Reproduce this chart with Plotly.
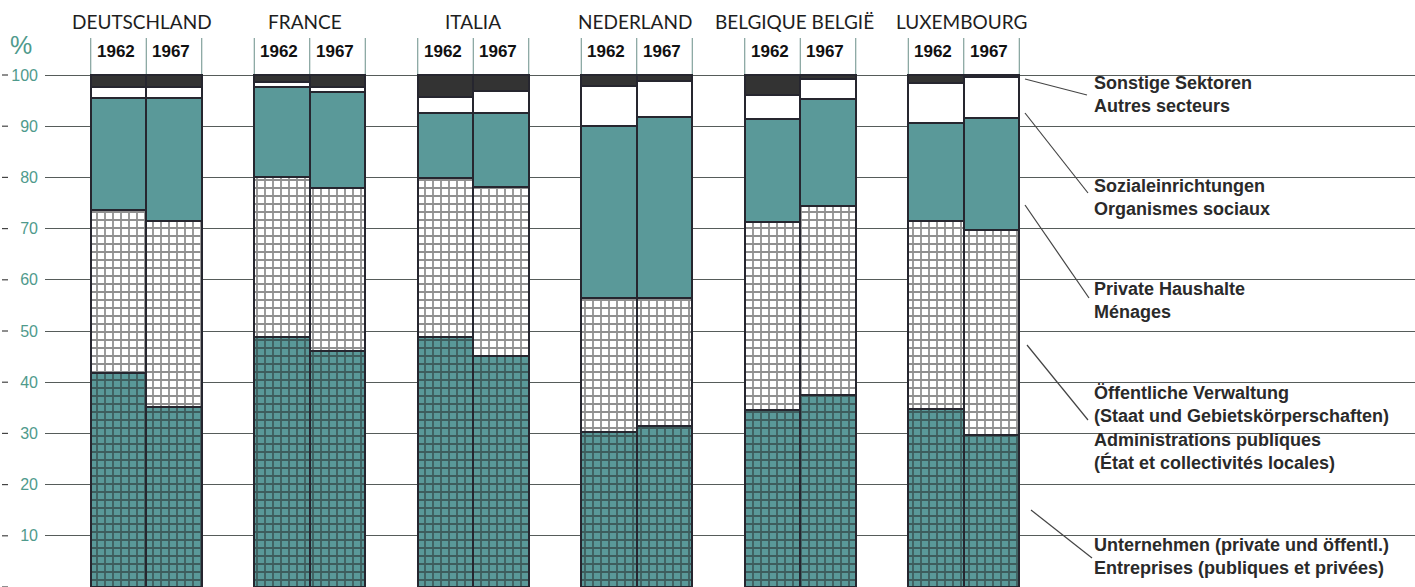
import plotly.graph_objects as go

# ---------------- data ----------------
countries = ["DEUTSCHLAND", "FRANCE", "ITALIA", "NEDERLAND", "BELGIQUE BELGIË", "LUXEMBOURG"]
years = ["1962", "1967"]
y_ticks = [0, 10, 20, 30, 40, 50, 60, 70, 80, 90, 100]

# shares in %, order: country x year (1962, 1967)
enterprises  = [41.8, 35.2, 48.8, 46.0, 48.8, 45.2, 30.3, 31.4, 34.6, 37.5, 34.8, 29.7]
public_admin = [31.8, 36.3, 31.2, 32.0, 31.1, 32.9, 26.1, 25.0, 36.7, 36.9, 36.7, 40.0]
households   = [21.9, 24.0, 17.7, 18.7, 12.7, 14.5, 33.6, 35.4, 20.1, 20.9, 19.1, 21.9]
social       = [2.2, 2.2, 0.9, 1.0, 3.2, 4.2, 7.8, 7.0, 4.6, 3.9, 7.8, 8.0]
others       = [2.3, 2.3, 1.4, 2.3, 4.2, 3.2, 2.2, 1.2, 4.0, 0.8, 1.6, 0.4]

legend_texts = [
    "Sonstige Sektoren<br>Autres secteurs",
    "Sozialeinrichtungen<br>Organismes sociaux",
    "Private Haushalte<br>Ménages",
    "Öffentliche Verwaltung<br>(Staat und Gebietskörperschaften)<br>Administrations publiques<br>(État et collectivités locales)",
    "Unternehmen (private und öffentl.)<br>Entreprises (publiques et privées)",
]

# ---------------- layout helpers ----------------
W, H = 1415, 587
ML = 45
PLOT_W = W - ML
BAR_PX = 55.5
GROUP_STEP = 2.946
X0 = -(118.5 - ML) / BAR_PX
X1 = X0 + PLOT_W / BAR_PX
PX_PER_UNIT = 5.12
Y_TOP = H / PX_PER_UNIT

def px_x(px):
    return (px - ML) / PLOT_W

def px_y(py):
    return (H - py) / H

TEAL = "#5a9999"
DARK = "#333333"
EDGE = "#26262f"
TEXT_TEAL = "#4f9a8c"

xs = [gi * GROUP_STEP + yi for gi in range(len(countries)) for yi in range(len(years))]

fig = go.Figure()

def add_bar(vals, name, color, pattern=None):
    marker = dict(color=color, line=dict(color=EDGE, width=2))
    if pattern is not None:
        marker["pattern"] = pattern
    fig.add_trace(go.Bar(x=xs, y=vals, name=name, width=1.0, marker=marker,
                         showlegend=False))

grid_white = dict(shape="+", size=8, solidity=0.4, fgcolor="#222222", bgcolor="white", fillmode="overlay")
grid_teal = dict(shape="+", size=8, solidity=0.4, fgcolor="#222222", bgcolor=TEAL, fillmode="overlay")

add_bar(enterprises, "Unternehmen", TEAL, grid_teal)
add_bar(public_admin, "Öffentliche Verwaltung", "white", grid_white)
add_bar(households, "Private Haushalte", TEAL)
add_bar(social, "Sozialeinrichtungen", "white")
add_bar(others, "Sonstige Sektoren", DARK)

annotations = []
shapes = []

# country headers
header_shift = [-4, -5, 0, -2, -6, -2]
for gi, c in enumerate(countries):
    cx = gi * GROUP_STEP + 0.5
    annotations.append(dict(x=cx, xref="x", y=px_y(21), yref="paper", text=c, showarrow=False,
                            xanchor="center", yanchor="middle", xshift=header_shift[gi],
                            font=dict(family="Lato, Open Sans, sans-serif", size=19, color="#1e1e1e")))
    for yi, yr in enumerate(years):
        annotations.append(dict(x=gi * GROUP_STEP + yi, xref="x", y=px_y(52), yref="paper", text=yr,
                                showarrow=False, xanchor="center", yanchor="middle", xshift=-3,
                                font=dict(family="Liberation Sans Narrow, Arial Narrow, Liberation Sans, sans-serif",
                                          size=17, color="#111111", weight="bold")))
    for k in range(3):
        ex = gi * GROUP_STEP - 0.5 + k
        shapes.append(dict(type="line", xref="x", yref="y", x0=ex, x1=ex, y0=100, y1=100 + 37 / PX_PER_UNIT,
                           line=dict(color="#6a8e88", width=1), layer="below"))

# y tick dashes
for v in y_ticks:
    shapes.append(dict(type="line", xref="paper", yref="y", x0=px_x(2), x1=px_x(8), y0=v, y1=v,
                       line=dict(color="#444444", width=1.2)))

# percent sign
annotations.append(dict(x=px_x(21), xref="paper", y=px_y(45), yref="paper", text="%", showarrow=False,
                        xanchor="center", yanchor="middle",
                        font=dict(family="Liberation Sans, Arial, sans-serif", size=25, color=TEXT_TEAL)))

# legend text on the right
legend_pos = [94, 197, 300, 428, 556]
for txt, py in zip(legend_texts, legend_pos):
    annotations.append(dict(x=px_x(1092), xref="paper", y=px_y(py), yref="paper", text=txt, showarrow=False,
                            xanchor="left", yanchor="middle", align="left",
                            font=dict(family="Liberation Sans, Arial, sans-serif", size=18, color="#2a2a2a",
                                      weight="bold")))

leaders = [((1025, 79), (1087, 95)), ((1025, 113), (1088, 193)), ((1025, 205), (1089, 298)),
           ((1027, 345), (1088, 420)), ((1031, 510), (1092, 558))]
for (ax, ay), (bx, by) in leaders:
    shapes.append(dict(type="line", xref="paper", yref="paper", x0=px_x(ax), y0=px_y(ay), x1=px_x(bx),
                       y1=px_y(by), line=dict(color="#444444", width=1.2)))

fig.update_layout(
    width=W, height=H,
    margin=dict(l=ML, r=0, t=0, b=0, autoexpand=False),
    paper_bgcolor="white", plot_bgcolor="white",
    barmode="stack", bargap=0,
    annotations=annotations, shapes=shapes,
    xaxis=dict(range=[X0, X1], showgrid=False, zeroline=False, showticklabels=False, showline=False,
               fixedrange=True, automargin=False),
    yaxis=dict(range=[0, Y_TOP], tickvals=y_ticks, ticktext=[str(v) for v in y_ticks],
               showgrid=True, gridcolor="#565c5a", gridwidth=1.2, zeroline=False, showline=False,
               ticks="", ticklabelstandoff=6, automargin=False,
               tickfont=dict(family="Liberation Sans, Arial, sans-serif", size=16, color=TEXT_TEAL)),
    font=dict(family="Liberation Sans, Arial, sans-serif"),
)

fig.write_html("out.html", config={"displayModeBar": False},
               post_script="document.body.style.margin='0';document.body.style.overflow='hidden';")
